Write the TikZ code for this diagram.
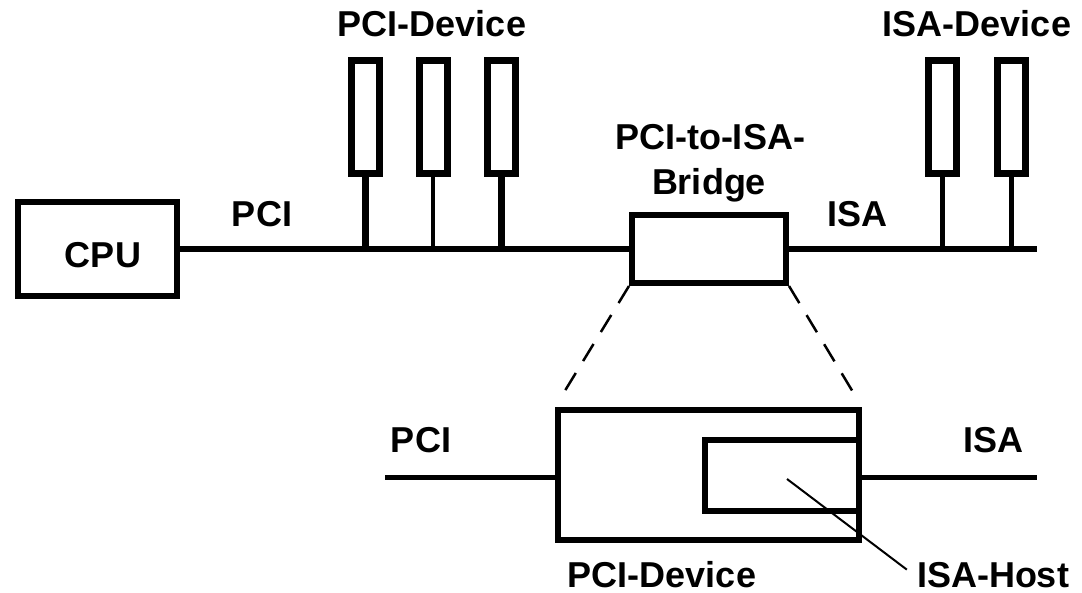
\documentclass[tikz,border=0pt]{standalone}
\usepackage{fontspec}
\setmainfont{Liberation Sans}
\begin{document}
\begin{tikzpicture}[x=1pt,y=-1pt,
  every node/.style={font=\fontsize{36}{42}\selectfont\bfseries},
  box/.style={draw, line width=6pt, rectangle, inner sep=0pt},
  lbl/.style={anchor=base, inner sep=0pt},
  slot/.style={draw, line width=7pt, minimum width=28pt, minimum height=113pt, inner sep=0pt},
  bus/.style={line width=6pt},
  thinbus/.style={line width=5pt},
  stubthick/.style={line width=7pt},
  stubthin/.style={line width=4pt},
  zoomline/.style={line width=2.5pt, dash pattern=on 20pt off 14pt, shorten >=19pt},
  leader/.style={line width=2pt},
]
\useasboundingbox (0,0) rectangle (1082,593);
% top part
\node[box, minimum width=159pt, minimum height=94pt] (cpu) at (97.5,249) {};
\node[lbl] (cpulbl) at (103,268) {CPU};
\node[box, minimum width=154pt, minimum height=68pt] (bridge) at (709,249) {};
\node[lbl] (bridgelbl) at (710,150) {PCI-to-ISA-};
\node[lbl] (bridgelbl2) at (709,195) {Bridge};
\node[lbl] (pcilbl) at (262,227) {PCI};
\node[lbl] (isalbl) at (857,227) {ISA};
\node[lbl] (pcidevlbl) at (432,37) {PCI-Device};
\node[lbl] (isadevlbl) at (977,37) {ISA-Device};
\node[slot] (p1) at (365,117) {};
\node[slot] (p2) at (433,117) {};
\node[slot] (p3) at (501,117) {};
\node[slot] (i1) at (942.5,117) {};
\node[slot] (i2) at (1011.5,117) {};
\coordinate (isaend) at (1037,249);
\draw[bus] (cpu.east) -- (bridge.west);
\draw[bus] (bridge.east) -- (isaend);
\draw[stubthick] (p1.south) -- (p1.south |- cpu.east);
\draw[stubthin] (p2.south) -- (p2.south |- cpu.east);
\draw[stubthick] (p3.south) -- (p3.south |- cpu.east);
\draw[thinbus] (i1.south) -- (i1.south |- cpu.east);
\draw[thinbus] (i2.south) -- (i2.south |- cpu.east);
% bottom part
\node[box, minimum width=301pt, minimum height=130pt] (dev) at (708.5,475) {};
\node[box, minimum width=154pt, minimum height=71pt] (host) at (782,475.5) {};
\node[lbl] (pcilbl2) at (421,453) {PCI};
\node[lbl] (isalbl2) at (993,453) {ISA};
\node[lbl] (devlbl) at (662,587) {PCI-Device};
\node[lbl] (hostlbl) at (993,587) {ISA-Host};
\coordinate (pcistart) at (385,477);
\coordinate (isaend2) at (1037,477);
\draw[thinbus] (pcistart) -- (pcistart -| dev.west);
\draw[thinbus] (dev.east |- isaend2) -- (isaend2);
\coordinate (hostpt) at (787,479);
\draw[leader] (hostpt) -- ([xshift=-10pt,yshift=5pt]hostlbl.west);
\draw[zoomline] (bridge.south west) -- (dev.north west);
\draw[zoomline] (bridge.south east) -- (dev.north east);
\end{tikzpicture}
\end{document}
